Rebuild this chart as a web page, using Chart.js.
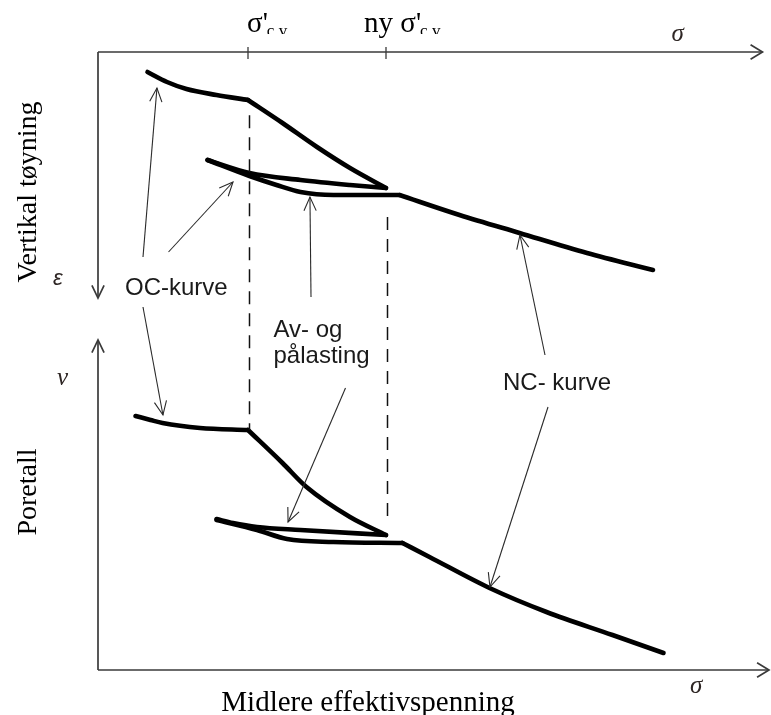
<!DOCTYPE html>
<html>
<head>
<meta charset="utf-8">
<script src="https://cdn.jsdelivr.net/npm/chart.js@4/dist/chart.umd.min.js"></script>
<style>
  html, body { margin: 0; padding: 0; background: #fff; }
  canvas { display: block; }
</style>
</head>
<body>
<canvas id="c" width="771" height="715"></canvas>
<script>
// ---- Stress axis (mean effective stress, σ) ----
const sigmaTicks = [100, 192];
const sigmaTickLabels = [["σ'", "c,v"], ["ny σ'", "c,v"]];

// ---- Upper panel: vertical strain ε (grows downwards) ----
const ocTopSigma      = [33, 46, 59, 79, 100];
const ocTopEps        = [0.5, 0.75, 0.925, 1.075, 1.2];
const ncSteepTopSigma = [100, 123, 146, 168, 192];
const ncSteepTopEps   = [1.2, 1.775, 2.375, 2.9, 3.4];
const unloadTopSigma  = [73, 101, 135, 168, 192];
const unloadTopEps    = [2.7, 3.025, 3.2, 3.325, 3.4];
const reloadTopSigma  = [73, 101, 119, 135, 157, 201];
const reloadTopEps    = [2.7, 3.1, 3.325, 3.5, 3.575, 3.575];
const ncTopSigma      = [201, 241, 281, 326, 370];
const ncTopEps        = [3.575, 4.075, 4.525, 5.025, 5.45];

// ---- Lower panel: void ratio ν ----
const ocBotSigma      = [25, 35, 43, 68, 100];
const ocBotNu         = [1.135, 1.125, 1.1175, 1.105, 1.10];
const ncSteepBotSigma = [100, 123, 139, 168, 192];
const ncSteepBotNu    = [1.10, 1.0175, 0.9575, 0.8825, 0.8375];
const unloadBotSigma  = [79, 90, 106, 135, 192];
const unloadBotNu     = [0.8775, 0.8675, 0.8575, 0.85, 0.8375];
const reloadBotSigma  = [79, 106, 126, 157, 203];
const reloadBotNu     = [0.875, 0.85, 0.8275, 0.82, 0.8175];
const ncBotSigma      = [203, 221, 261, 299, 343, 377];
const ncBotNu         = [0.8175, 0.7825, 0.705, 0.645, 0.5875, 0.5425];

// ---- Scale ranges ----
const sigmaRange = [0, 448];
const epsRange   = [0, 15.45];
const nuRange    = [0.5, 2.045];
const sigmaAxisEndTop = 443;   // arrow tip of upper σ-axis
const epsAxisEnd = 6.15;       // arrow tip of ε-axis
const nuAxisEnd  = 1.325;      // arrow tip of ν-axis

// ---- Dashed guides at the preconsolidation stresses ----
const guideSigma   = [101, 193];
const guideEpsFrom = [1.58, 4.125];
const guideNuTo    = [1.10, 0.875];

// ---- Callout labels and their leader arrows ----
const calloutText  = [["OC-kurve"], ["Av- og", "pålasting"], ["NC- kurve"]];
const calloutSigma = [18, 117, 270];
const calloutVal   = [6.075, 7.125, 1.2];
const calloutAxis  = ["yEps", "yEps", "yNu"];

const leaderFrom = [[30, 5.125, "yEps"], [47, 5.0, "yEps"], [30, 6.375, "yEps"],
                    [142, 6.125, "yEps"], [165, 1.205, "yNu"],
                    [298, 7.575, "yEps"], [300, 1.1575, "yNu"]];
const leaderTo   = [[39.3, 0.9, "yEps"], [90, 3.25, "yEps"], [43.3, 1.1375, "yNu"],
                    [141.3, 3.625, "yEps"], [126.7, 0.87, "yNu"],
                    [281.3, 4.575, "yEps"], [261.3, 0.7075, "yNu"]];

const xy = (xs, ys) => xs.map((x, i) => ({ x, y: ys[i] }));

function curve(xs, ys, axis) {
  return {
    data: xy(xs, ys),
    yAxisID: axis,
    showLine: true,
    borderColor: '#000',
    borderWidth: 4.6,
    pointRadius: 0,
    cubicInterpolationMode: 'monotone',
    borderCapStyle: 'round',
    borderJoinStyle: 'round',
    fill: false
  };
}

const SERIF = 'Liberation Serif, "Times New Roman", serif';
const SANS = 'Liberation Sans, Arial, sans-serif';

function arrowHead(ctx, x1, y1, x2, y2, len, ang) {
  const a = Math.atan2(y2 - y1, x2 - x1);
  ctx.beginPath();
  ctx.moveTo(x2 - len * Math.cos(a - ang), y2 - len * Math.sin(a - ang));
  ctx.lineTo(x2, y2);
  ctx.lineTo(x2 - len * Math.cos(a + ang), y2 - len * Math.sin(a + ang));
  ctx.stroke();
}

function arrow(ctx, x1, y1, x2, y2, len, ang) {
  ctx.beginPath();
  ctx.moveTo(x1, y1);
  ctx.lineTo(x2, y2);
  ctx.stroke();
  arrowHead(ctx, x1, y1, x2, y2, len, ang);
}

const decorations = {
  id: 'decorations',
  afterDatasetsDraw(chart) {
    const ctx = chart.ctx;
    const sx = chart.scales.x, se = chart.scales.yEps, sn = chart.scales.yNu;
    const X = v => sx.getPixelForValue(v);
    const Y = (v, axis) => chart.scales[axis].getPixelForValue(v);
    ctx.save();

    // Axes with arrow tips
    ctx.strokeStyle = '#3a3a3a';
    ctx.lineWidth = 1.7;
    const x0 = X(sigmaRange[0]);
    const yTop = se.getPixelForValue(epsRange[0]);
    const yBot = sn.getPixelForValue(nuRange[0]);
    arrow(ctx, x0, yTop, X(sigmaAxisEndTop), yTop, 14, 0.55);
    arrow(ctx, x0, yTop, x0, se.getPixelForValue(epsAxisEnd), 14, 0.45);
    arrow(ctx, x0, yBot, x0, sn.getPixelForValue(nuAxisEnd), 14, 0.45);
    arrow(ctx, x0, yBot, X(sigmaRange[1]) - 1, yBot, 14, 0.55);

    // Tick marks on the upper σ-axis
    ctx.lineWidth = 1.3;
    sigmaTicks.forEach(v => {
      ctx.beginPath();
      ctx.moveTo(X(v), yTop - 5);
      ctx.lineTo(X(v), yTop + 7);
      ctx.stroke();
    });

    // Tick labels (with subscript)
    const tickOffsets = [-1, -22];
    ctx.fillStyle = '#000';
    ctx.textBaseline = 'alphabetic';
    ctx.textAlign = 'left';
    sigmaTickLabels.forEach((lab, i) => {
      const lx = X(sigmaTicks[i]) + tickOffsets[i];
      ctx.font = '29px ' + SERIF;
      ctx.fillText(lab[0], lx, yTop - 20);
      const w = ctx.measureText(lab[0]).width;
      ctx.save();
      ctx.beginPath();
      ctx.rect(lx + w - 4, 0, 60, yTop - 18);
      ctx.clip();
      ctx.font = '17px ' + SERIF;
      ctx.fillText(lab[1], lx + w - 1, yTop - 16);
      ctx.restore();
    });

    // Dashed guides
    ctx.strokeStyle = '#111';
    ctx.lineWidth = 1.5;
    ctx.setLineDash([13, 9]);
    guideSigma.forEach((v, i) => {
      ctx.beginPath();
      ctx.moveTo(X(v), se.getPixelForValue(guideEpsFrom[i]));
      ctx.lineTo(X(v), sn.getPixelForValue(guideNuTo[i]));
      ctx.stroke();
    });
    ctx.setLineDash([]);

    // Leader arrows
    ctx.strokeStyle = '#2a2a2a';
    ctx.lineWidth = 1.1;
    leaderFrom.forEach((f, i) => {
      const t = leaderTo[i];
      arrow(ctx, X(f[0]), Y(f[1], f[2]), X(t[0]), Y(t[1], t[2]), 15, 0.42);
    });

    // Callout texts
    ctx.fillStyle = '#1a1a1a';
    ctx.font = '24px ' + SANS;
    ctx.textAlign = 'left';
    calloutText.forEach((lines, i) => {
      const lx = X(calloutSigma[i]);
      const ly = Y(calloutVal[i], calloutAxis[i]);
      lines.forEach((s, k) => ctx.fillText(s, lx, ly + k * 26));
    });

    // Axis symbols
    ctx.fillStyle = '#2e2624';
    ctx.font = 'italic 25px ' + SERIF;
    ctx.fillText('σ', X(sigmaAxisEndTop) - 91, yTop - 11);
    ctx.fillText('σ', X(sigmaRange[1]) - 80, yBot + 23);
    ctx.font = 'italic 22px ' + SANS;
    ctx.fillText('ε', x0 - 45, se.getPixelForValue(epsAxisEnd) - 13);
    ctx.font = 'italic 25px ' + SERIF;
    ctx.fillText('ν', x0 - 41, sn.getPixelForValue(nuAxisEnd) + 45);

    // Axis titles
    ctx.fillStyle = '#000';
    ctx.font = '28px ' + SERIF;
    ctx.textAlign = 'center';
    ctx.textBaseline = 'middle';
    ctx.save();
    ctx.translate(29, 192);
    ctx.rotate(-Math.PI / 2);
    ctx.fillText('Vertikal tøyning', 0, 0);
    ctx.restore();
    ctx.save();
    ctx.translate(29, 492);
    ctx.rotate(-Math.PI / 2);
    ctx.fillText('Poretall', 0, 0);
    ctx.restore();
    ctx.font = '29px ' + SERIF;
    ctx.textBaseline = 'alphabetic';
    ctx.fillText('Midlere effektivspenning', 368, 711);

    ctx.restore();
  }
};

new Chart(document.getElementById('c'), {
  type: 'scatter',
  data: {
    datasets: [
      curve(ocTopSigma, ocTopEps, 'yEps'),
      curve(ncSteepTopSigma, ncSteepTopEps, 'yEps'),
      curve(unloadTopSigma, unloadTopEps, 'yEps'),
      curve(reloadTopSigma, reloadTopEps, 'yEps'),
      curve(ncTopSigma, ncTopEps, 'yEps'),
      curve(ocBotSigma, ocBotNu, 'yNu'),
      curve(ncSteepBotSigma, ncSteepBotNu, 'yNu'),
      curve(unloadBotSigma, unloadBotNu, 'yNu'),
      curve(reloadBotSigma, reloadBotNu, 'yNu'),
      curve(ncBotSigma, ncBotNu, 'yNu')
    ]
  },
  options: {
    responsive: false,
    animation: false,
    devicePixelRatio: 1,
    layout: { padding: { left: 98, right: 1, top: 52, bottom: 45 } },
    plugins: { legend: { display: false }, tooltip: { enabled: false } },
    scales: {
      x:    { type: 'linear', min: sigmaRange[0], max: sigmaRange[1], display: false },
      yEps: { type: 'linear', min: epsRange[0], max: epsRange[1], reverse: true, display: false },
      yNu:  { type: 'linear', min: nuRange[0], max: nuRange[1], display: false }
    }
  },
  plugins: [decorations]
});
</script>
</body>
</html>
